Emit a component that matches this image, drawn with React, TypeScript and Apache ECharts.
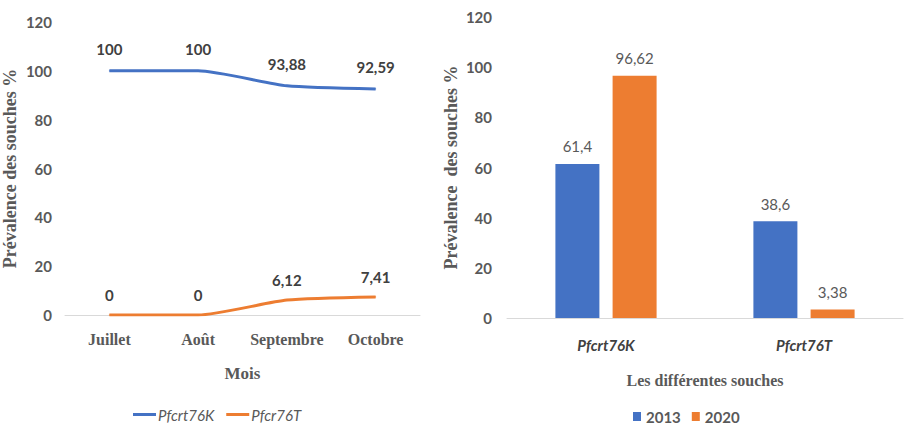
import React, { useEffect, useRef } from "react";
import * as echarts from "echarts";

const months = ["Juillet", "Août", "Septembre", "Octobre"];
const k76Monthly = [100, 100, 93.88, 92.59];
const t76Monthly = [0, 0, 6.12, 7.41];
const lineSeriesNames = ["Pfcrt76K", "Pfcr76T"];

const strains = ["Pfcrt76K", "Pfcrt76T"];
const years = ["2013", "2020"];
const values2013 = [61.4, 38.6];
const values2020 = [96.62, 3.38];

const BLUE = "#4472C4";
const ORANGE = "#ED7D31";
const SANS = "Lato, 'Open Sans', sans-serif";
const SERIF = "'Liberation Serif', 'DejaVu Serif', serif";

const fmt = (v: number) => String(v).replace(".", ",");

export default function App() {
  const ref = useRef<HTMLDivElement>(null);
  useEffect(() => {
    if (!ref.current) return;
    const chart = echarts.init(ref.current, undefined, { renderer: "svg" });
    const yAxisCommon = (gridIndex: number, margin: number, name: string, nameGap: number) => ({
      type: "value" as const,
      gridIndex,
      min: 0,
      max: 120,
      interval: 20,
      axisLine: { show: false },
      axisTick: { show: false },
      splitLine: { show: false },
      axisLabel: { color: "#595959", fontFamily: SANS, fontSize: 15, fontWeight: "bold" as const, margin },
      name,
      nameLocation: "middle" as const,
      nameGap,
      nameTextStyle: { color: "#595959", fontFamily: SERIF, fontSize: 18, fontWeight: "bold" as const },
    });
    const lineLabel = (distance: number) => ({
      show: true,
      position: "top" as const,
      distance,
      formatter: (p: any) => fmt(p.value),
      color: "#404040",
      fontFamily: SANS,
      fontSize: 15,
      fontWeight: "bold" as const,
    });
    chart.setOption({
      animation: false,
      backgroundColor: "#ffffff",
      grid: [
        { left: 62, top: 22, width: 358, height: 293 },
        { left: 507, top: 17, width: 396, height: 301 },
      ],
      legend: [
        {
          data: lineSeriesNames.map((n) => ({ name: n, icon: "rect" })),
          left: 128,
          top: 402,
          itemWidth: 23,
          itemHeight: 3,
          itemGap: 12,
          textStyle: { color: "#595959", fontFamily: SANS, fontSize: 15, fontStyle: "italic", padding: [0, 0, 0, -3] },
        },
        {
          data: years,
          left: 628,
          top: 404,
          icon: "rect",
          itemWidth: 8,
          itemHeight: 9,
          itemGap: 11,
          textStyle: { color: "#595959", fontFamily: SANS, fontSize: 15, fontWeight: "bold" },
        },
      ],
      xAxis: [
        {
          type: "category",
          gridIndex: 0,
          data: months,
          axisLine: { lineStyle: { color: "#d9d9d9", width: 1 } },
          axisTick: { show: false },
          axisLabel: { color: "#595959", fontFamily: SERIF, fontSize: 16, fontWeight: "bold", margin: 16, interval: 0 },
          name: "Mois",
          nameLocation: "middle",
          nameGap: 50,
          nameTextStyle: { color: "#595959", fontFamily: SERIF, fontSize: 17, fontWeight: "bold" },
        },
        {
          type: "category",
          gridIndex: 1,
          data: strains,
          axisLine: { lineStyle: { color: "#d9d9d9", width: 1 } },
          axisTick: { show: false },
          axisLabel: { color: "#404040", fontFamily: SANS, fontSize: 15, fontWeight: "bold", fontStyle: "italic", margin: 19, interval: 0 },
          name: "Les différentes souches",
          nameLocation: "middle",
          nameGap: 54,
          nameTextStyle: { color: "#595959", fontFamily: SERIF, fontSize: 16, fontWeight: "bold" },
        },
      ],
      yAxis: [
        yAxisCommon(0, 13, "Prévalence des souches %", 46),
        yAxisCommon(1, 15, "Prévalence  des souches %", 47),
      ],
      series: [
        {
          name: lineSeriesNames[0],
          type: "line",
          xAxisIndex: 0,
          yAxisIndex: 0,
          data: k76Monthly,
          smooth: 0.2,
          symbol: "circle",
          symbolSize: 1,
          showSymbol: true,
          lineStyle: { color: BLUE, width: 3 },
          itemStyle: { color: BLUE },
          label: lineLabel(14),
        },
        {
          name: lineSeriesNames[1],
          type: "line",
          xAxisIndex: 0,
          yAxisIndex: 0,
          data: t76Monthly,
          smooth: 0.2,
          symbol: "circle",
          symbolSize: 1,
          showSymbol: true,
          lineStyle: { color: ORANGE, width: 3 },
          itemStyle: { color: ORANGE },
          label: lineLabel(12),
        },
        {
          name: years[0],
          type: "bar",
          xAxisIndex: 1,
          yAxisIndex: 1,
          data: values2013,
          barWidth: 44,
          barGap: "30%",
          itemStyle: { color: BLUE },
          label: {
            show: true,
            position: "top",
            distance: 10,
            formatter: (p: any) => fmt(p.value),
            color: "#595959",
            fontFamily: SANS,
            fontSize: 15,
          },
        },
        {
          name: years[1],
          type: "bar",
          xAxisIndex: 1,
          yAxisIndex: 1,
          data: values2020,
          barWidth: 44,
          barGap: "30%",
          itemStyle: { color: ORANGE },
          label: {
            show: true,
            position: "top",
            distance: 10,
            formatter: (p: any) => fmt(p.value),
            color: "#595959",
            fontFamily: SANS,
            fontSize: 15,
          },
        },
      ],
    });
    return () => chart.dispose();
  }, []);
  return (
    <div
      ref={ref}
      style={{ position: "fixed", left: 0, top: 0, width: 904, height: 424, background: "#fff" }}
    />
  );
}
